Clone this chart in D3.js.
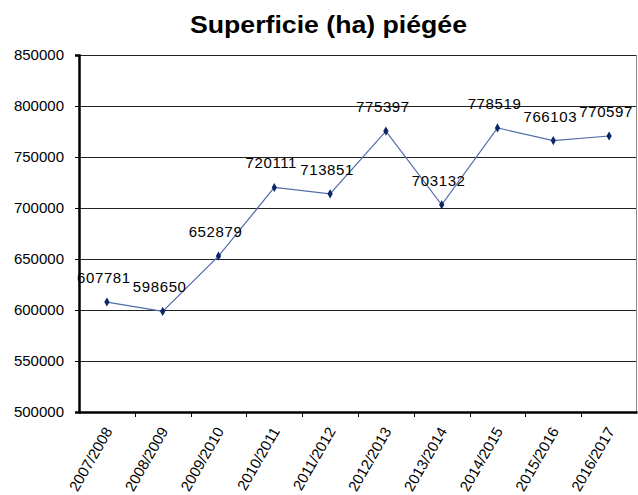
<!DOCTYPE html>
<html>
<head>
<meta charset="utf-8">
<script src="https://cdn.jsdelivr.net/npm/d3@7/dist/d3.min.js"></script>
<style>
  html, body { margin: 0; padding: 0; background: #fff; }
  svg { display: block; }
  text { font-family: "Liberation Sans", Arial, sans-serif; fill: #000; }
</style>
</head>
<body>
<svg id="chart" width="638" height="495"></svg>
<script>
const categories = ["2007/2008","2008/2009","2009/2010","2010/2011","2011/2012","2012/2013","2013/2014","2014/2015","2015/2016","2016/2017"];
const values = [607781, 598650, 652879, 720111, 713851, 775397, 703132, 778519, 766103, 770597];
const yTicks = [500000, 550000, 600000, 650000, 700000, 750000, 800000, 850000];
const titleText = "Superficie (ha) piégée";

(function () {
const svg = d3.select("#chart");
const pLeft = 79, pRight = 637, pTop = 55, pBottom = 412;

const x = d3.scaleBand().domain(categories).range([pLeft, pRight]).paddingInner(0).paddingOuter(0);
const y = d3.scaleLinear().domain([500000, 850000]).range([pBottom, pTop]);

// title
svg.append("text")
  .attr("x", 190).attr("y", 33)
  .attr("textLength", 277).attr("lengthAdjust", "spacingAndGlyphs")
  .style("font-size", "23px").style("font-weight", "bold")
  .text(titleText);

// gridlines
svg.append("g").selectAll("line").data(yTicks.filter(d => d > 500000)).join("line")
  .attr("x1", pLeft).attr("x2", pRight)
  .attr("y1", d => Math.round(y(d)) + 0.5).attr("y2", d => Math.round(y(d)) + 0.5)
  .attr("stroke", "#222").attr("stroke-width", 1);

// right border
svg.append("line")
  .attr("x1", pRight - 0.5).attr("x2", pRight - 0.5)
  .attr("y1", pTop).attr("y2", pBottom)
  .attr("stroke", "#888").attr("stroke-width", 1);

// line
const line = d3.line().x((d, i) => x(categories[i]) + x.bandwidth() / 2).y(d => y(d));
svg.append("path").datum(values)
  .attr("d", line).attr("fill", "none")
  .attr("stroke", "#4f6ca8").attr("stroke-width", 1.2);

// markers
svg.append("g").selectAll("path").data(values).join("path")
  .attr("transform", (d, i) => `translate(${x(categories[i]) + x.bandwidth() / 2},${y(d)})`)
  .attr("d", d3.symbol().type(d3.symbolDiamond).size(24))
  .attr("fill", "#0b2566");

// data labels
svg.append("g").selectAll("text").data(values).join("text")
  .attr("x", (d, i) => x(categories[i]) + x.bandwidth() / 2 - 3)
  .attr("y", d => y(d) - 19)
  .attr("text-anchor", "middle")
  .style("font-size", "15px")
  .style("letter-spacing", "0.6px")
  .text(d => d);

// y axis
const yAxis = d3.axisLeft(y).tickValues(yTicks).tickSize(4).tickPadding(11).tickFormat(d3.format("d"));
const gy = svg.append("g").attr("transform", `translate(${pLeft},0)`).call(yAxis);
gy.select(".domain").attr("stroke", "#000").attr("stroke-width", 2.5);
gy.selectAll(".tick line").attr("stroke", "#000").attr("stroke-width", 1);
gy.selectAll(".tick text").style("font-size", "15px").attr("fill", "#111")
  .style("font-family", "'Liberation Sans', Arial, sans-serif");

// x axis
const xAxis = d3.axisBottom(x).tickSize(0).tickFormat("");
const gx = svg.append("g").attr("transform", `translate(0,${pBottom})`).call(xAxis);
gx.select(".domain").attr("stroke", "#000").attr("stroke-width", 2.5);
gx.selectAll(".tick").remove();
// tick marks at band boundaries
const bounds = categories.map(c => x(c)).concat([pRight]);
svg.append("g").selectAll("line").data(bounds.slice(1, -1)).join("line")
  .attr("x1", d => Math.round(d) + 0.5).attr("x2", d => Math.round(d) + 0.5)
  .attr("y1", pBottom).attr("y2", pBottom + 5)
  .attr("stroke", "#000").attr("stroke-width", 1);

// x labels
svg.append("g").selectAll("text").data(categories).join("text")
  .attr("transform", c => `translate(${x(c) + x.bandwidth() / 2 + 6},${pBottom + 19}) rotate(-60)`)
  .attr("text-anchor", "end")
  .style("font-size", "15px")
  .text(c => c);
})();
</script>
</body>
</html>
